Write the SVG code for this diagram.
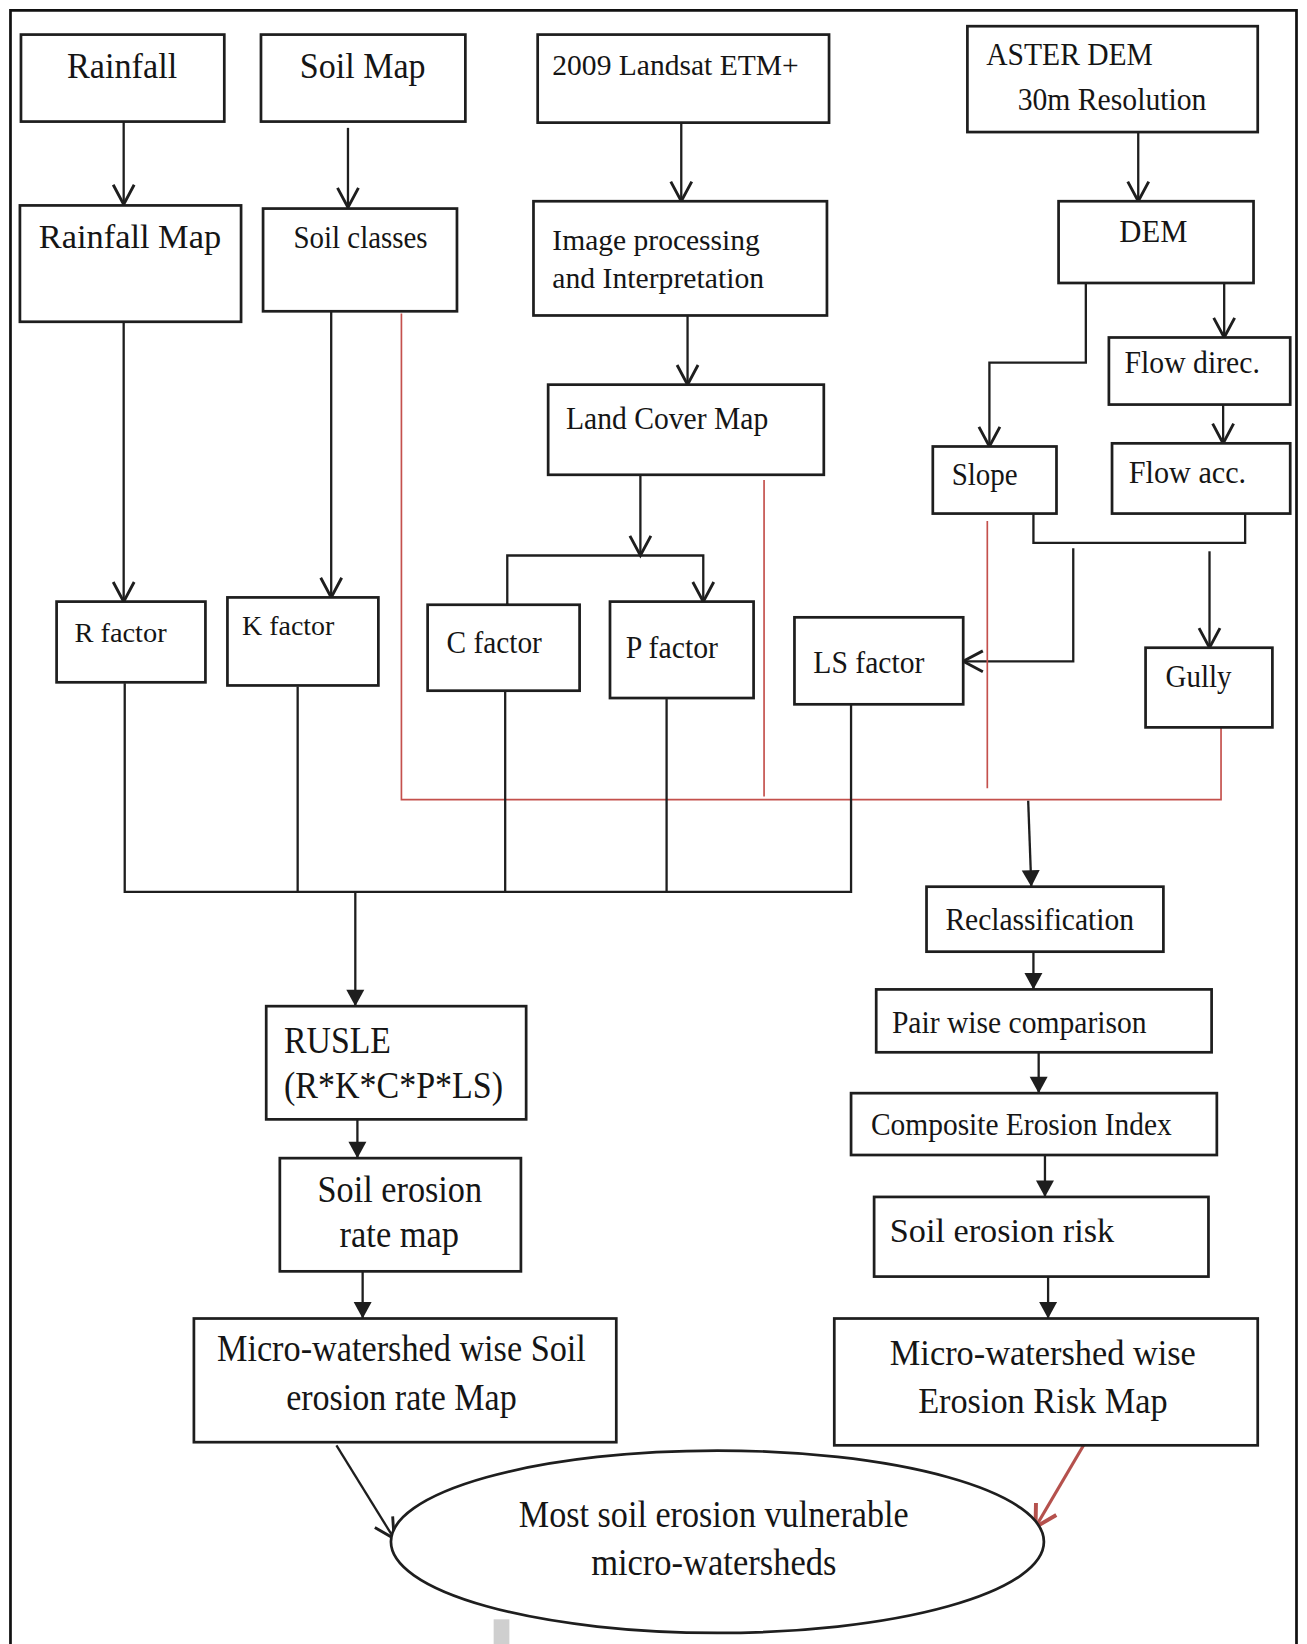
<svg xmlns="http://www.w3.org/2000/svg" width="1307" height="1644" viewBox="0 0 1307 1644">
<style>
.box{fill:#fff;stroke:#1e1e1e;stroke-width:2.6}
.t{font-family:"Liberation Serif","Times New Roman",serif;fill:#151515}
.c{fill:none;stroke:#1e1e1e;stroke-width:2.2}
.r{fill:none;stroke:#c4504c;stroke-width:1.6}
</style>
<defs>
<marker id="open" markerUnits="userSpaceOnUse" markerWidth="30" markerHeight="30" viewBox="-16 -12 20 24" refX="0" refY="0" orient="auto" overflow="visible">
<path d="M-15,-8 L0,0 L-15,8" fill="none" stroke="#1e1e1e" stroke-width="2.2"/>
</marker>
<marker id="fill" markerUnits="userSpaceOnUse" markerWidth="20" markerHeight="20" viewBox="-12 -7 14 14" refX="0" refY="0" orient="auto" overflow="visible">
<path d="M-11,-6 L0,0 L-11,6 Z" fill="#1e1e1e"/>
</marker>
<marker id="redopen" markerUnits="userSpaceOnUse" markerWidth="30" markerHeight="30" viewBox="-16 -12 20 24" refX="0" refY="0" orient="auto" overflow="visible">
<path d="M-16,-9 L0,0 L-16,9" fill="none" stroke="#b5514d" stroke-width="3"/>
</marker>
</defs>
<rect width="1307" height="1644" fill="#fff"/>
<g transform="scale(1.0481)">
<path d="M10,1569 V10 H1237 V1569" fill="none" stroke="#111" stroke-width="2.6"/>
<rect x="471" y="1545" width="15" height="25" fill="#cfcfcf"/>

<g id="connectors">
<path class="c" d="M118,116 V195" marker-end="url(#open)"/>
<path class="c" d="M332,122 V198" marker-end="url(#open)"/>
<path class="c" d="M650,117 V192" marker-end="url(#open)"/>
<path class="c" d="M1086,126 V192" marker-end="url(#open)"/>
<path class="c" d="M656,301 V367" marker-end="url(#open)"/>
<path class="c" d="M1168,270 V322" marker-end="url(#open)"/>
<path class="c" d="M1036,270 V346 H944 V426" marker-end="url(#open)"/>
<path class="c" d="M1167,386 V423" marker-end="url(#open)"/>
<path class="c" d="M118,307 V574" marker-end="url(#open)"/>
<path class="c" d="M316,297 V570" marker-end="url(#open)"/>
<path class="c" d="M611,453 V530" marker-end="url(#open)"/>
<path class="c" d="M484,577 V530 H671 V574" marker-start="url(#open)" marker-end="url(#open)"/>
<path class="c" d="M986,490 V518 H1188 V490"/>
<path class="c" d="M1024,523 V631 H919" marker-end="url(#open)"/>
<path class="c" d="M1154,526 V618" marker-end="url(#open)"/>
<path class="r" d="M383,299 V763 H1165 V694"/>
<path class="r" d="M729,458 V760"/>
<path class="r" d="M942,497 V752"/>
<path class="c" d="M119,652 V851 H812 V672"/>
<path class="c" d="M284,655 V851"/>
<path class="c" d="M482,660 V851"/>
<path class="c" d="M636,667 V851"/>
<path class="c" d="M339,851 V960" marker-end="url(#fill)"/>
<path class="c" d="M981,764 L984,846" marker-end="url(#fill)"/>
<path class="c" d="M341,1068 V1105" marker-end="url(#fill)"/>
<path class="c" d="M346,1213 V1258" marker-end="url(#fill)"/>
<path class="c" d="M986,908 V944" marker-end="url(#fill)"/>
<path class="c" d="M991,1004 V1043" marker-end="url(#fill)"/>
<path class="c" d="M997,1102 V1142" marker-end="url(#fill)"/>
<path class="c" d="M1000,1218 V1258" marker-end="url(#fill)"/>
<path class="c" d="M321,1379 L376,1468" marker-end="url(#open)"/>
<path d="M1035,1377 L988,1457" fill="none" stroke="#b5514d" stroke-width="3" marker-end="url(#redopen)"/>
</g>

<g id="n-rainfall"><rect class="box" x="20" y="33" width="194" height="83"/><text class="t" x="64" y="74.5" font-size="35" textLength="105" lengthAdjust="spacingAndGlyphs">Rainfall</text></g>
<g id="n-soilmap"><rect class="box" x="249" y="33" width="195" height="83"/><text class="t" x="286" y="74.5" font-size="35" textLength="120" lengthAdjust="spacingAndGlyphs">Soil Map</text></g>
<g id="n-landsat"><rect class="box" x="513" y="33" width="278" height="84"/><text class="t" x="527" y="71.5" font-size="29" textLength="235" lengthAdjust="spacingAndGlyphs">2009 Landsat ETM+</text></g>
<g id="n-aster"><rect class="box" x="923" y="25" width="277" height="101"/><text class="t" x="941" y="62" font-size="30" textLength="159" lengthAdjust="spacingAndGlyphs">ASTER DEM</text><text class="t" x="971" y="105" font-size="30" textLength="180" lengthAdjust="spacingAndGlyphs">30m Resolution</text></g>
<g id="n-rainfallmap"><rect class="box" x="19" y="196" width="211" height="111"/><text class="t" x="37" y="237" font-size="32" textLength="174" lengthAdjust="spacingAndGlyphs">Rainfall Map</text></g>
<g id="n-soilclasses"><rect class="box" x="251" y="199" width="185" height="98"/><text class="t" x="280" y="237" font-size="30" textLength="128" lengthAdjust="spacingAndGlyphs">Soil classes</text></g>
<g id="n-imageproc"><rect class="box" x="509" y="192" width="280" height="109"/><text class="t" x="527" y="239" font-size="29" textLength="198" lengthAdjust="spacingAndGlyphs">Image processing</text><text class="t" x="527" y="275" font-size="29" textLength="202" lengthAdjust="spacingAndGlyphs">and Interpretation</text></g>
<g id="n-dem"><rect class="box" x="1010" y="192" width="186" height="78"/><text class="t" x="1068" y="231" font-size="30" textLength="65" lengthAdjust="spacingAndGlyphs">DEM</text></g>
<g id="n-flowdirec"><rect class="box" x="1058" y="322" width="173" height="64"/><text class="t" x="1073" y="356" font-size="30" textLength="129" lengthAdjust="spacingAndGlyphs">Flow direc.</text></g>
<g id="n-landcover"><rect class="box" x="523" y="367" width="263" height="86"/><text class="t" x="540" y="409" font-size="31" textLength="193" lengthAdjust="spacingAndGlyphs">Land Cover Map</text></g>
<g id="n-slope"><rect class="box" x="890" y="426" width="118" height="64"/><text class="t" x="908" y="463" font-size="30" textLength="63" lengthAdjust="spacingAndGlyphs">Slope</text></g>
<g id="n-flowacc"><rect class="box" x="1061" y="423" width="170" height="67"/><text class="t" x="1077" y="461" font-size="30" textLength="112" lengthAdjust="spacingAndGlyphs">Flow acc.</text></g>
<g id="n-rfactor"><rect class="box" x="54" y="574" width="142" height="77"/><text class="t" x="71" y="613" font-size="26" textLength="88" lengthAdjust="spacingAndGlyphs">R factor</text></g>
<g id="n-kfactor"><rect class="box" x="217" y="570" width="144" height="84"/><text class="t" x="231" y="606" font-size="27" textLength="88" lengthAdjust="spacingAndGlyphs">K factor</text></g>
<g id="n-cfactor"><rect class="box" x="408" y="577" width="145" height="82"/><text class="t" x="426" y="623" font-size="30" textLength="91" lengthAdjust="spacingAndGlyphs">C factor</text></g>
<g id="n-pfactor"><rect class="box" x="582" y="574" width="137" height="92"/><text class="t" x="597" y="628" font-size="30" textLength="88" lengthAdjust="spacingAndGlyphs">P factor</text></g>
<g id="n-lsfactor"><rect class="box" x="758" y="589" width="161" height="83"/><text class="t" x="776" y="642" font-size="31" textLength="106" lengthAdjust="spacingAndGlyphs">LS factor</text></g>
<g id="n-gully"><rect class="box" x="1093" y="618" width="121" height="76"/><text class="t" x="1112" y="655" font-size="30" textLength="63" lengthAdjust="spacingAndGlyphs">Gully</text></g>
<g id="n-reclass"><rect class="box" x="884" y="846" width="226" height="62"/><text class="t" x="902" y="887" font-size="31" textLength="180" lengthAdjust="spacingAndGlyphs">Reclassification</text></g>
<g id="n-pairwise"><rect class="box" x="836" y="944" width="320" height="60"/><text class="t" x="851" y="986" font-size="30" textLength="243" lengthAdjust="spacingAndGlyphs">Pair wise comparison</text></g>
<g id="n-composite"><rect class="box" x="812" y="1043" width="349" height="59"/><text class="t" x="831" y="1083" font-size="31" textLength="287" lengthAdjust="spacingAndGlyphs">Composite Erosion Index</text></g>
<g id="n-risk"><rect class="box" x="834" y="1142" width="319" height="76"/><text class="t" x="849" y="1185" font-size="33" textLength="214" lengthAdjust="spacingAndGlyphs">Soil erosion risk</text></g>
<g id="n-mwrisk"><rect class="box" x="796" y="1258" width="404" height="121"/><text class="t" x="849" y="1302" font-size="35" textLength="292" lengthAdjust="spacingAndGlyphs">Micro-watershed wise</text><text class="t" x="876" y="1348" font-size="35" textLength="238" lengthAdjust="spacingAndGlyphs">Erosion Risk Map</text></g>
<g id="n-rusle"><rect class="box" x="254" y="960" width="248" height="108"/><text class="t" x="271" y="1005" font-size="36" textLength="102" lengthAdjust="spacingAndGlyphs">RUSLE</text><text class="t" x="271" y="1048" font-size="36" textLength="209" lengthAdjust="spacingAndGlyphs">(R*K*C*P*LS)</text></g>
<g id="n-ratemap"><rect class="box" x="267" y="1105" width="230" height="108"/><text class="t" x="303" y="1147" font-size="36" textLength="157" lengthAdjust="spacingAndGlyphs">Soil erosion</text><text class="t" x="324" y="1190" font-size="36" textLength="114" lengthAdjust="spacingAndGlyphs">rate map</text></g>
<g id="n-mwsoil"><rect class="box" x="185" y="1258" width="403" height="118"/><text class="t" x="207" y="1299" font-size="36" textLength="352" lengthAdjust="spacingAndGlyphs">Micro-watershed wise Soil</text><text class="t" x="273" y="1345" font-size="36" textLength="220" lengthAdjust="spacingAndGlyphs">erosion rate Map</text></g>
<g id="n-vulnerable"><ellipse cx="684.5" cy="1471" rx="311.5" ry="87" fill="#fff" stroke="#1e1e1e" stroke-width="2.6"/><text class="t" x="495" y="1457" font-size="36" textLength="372" lengthAdjust="spacingAndGlyphs">Most soil erosion vulnerable</text><text class="t" x="564" y="1503" font-size="36" textLength="234" lengthAdjust="spacingAndGlyphs">micro-watersheds</text></g>
</g>
</svg>
